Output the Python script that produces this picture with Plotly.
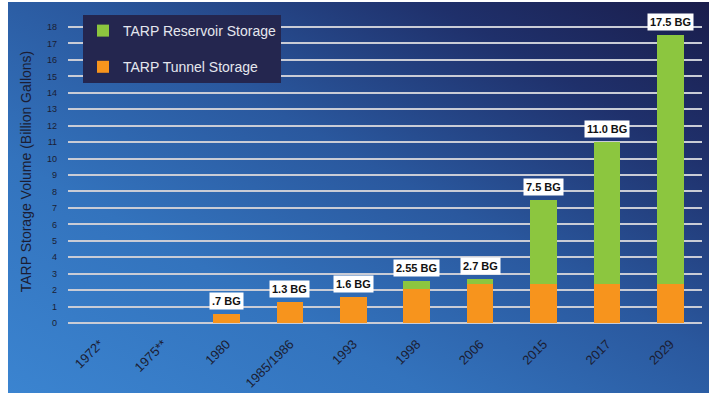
import base64
import plotly.graph_objects as go

# ---- data ----
categories = ["1972*", "1975**", "1980", "1985/1986", "1993", "1998", "2006", "2015", "2017", "2029"]
tunnel = [None, None, 0.55, 1.3, 1.6, 2.1, 2.35, 2.35, 2.35, 2.35]
reservoir = [None, None, 0, 0, 0, 0.45, 0.35, 5.15, 8.65, 15.15]
totals = [None, None, 0.55, 1.3, 1.6, 2.55, 2.7, 7.5, 11.0, 17.5]
value_labels = ["", "", ".7 BG", "1.3 BG", "1.6 BG", "2.55 BG", "2.7 BG", "7.5 BG", "11.0 BG", "17.5 BG"]
y_ticks = list(range(0, 19))

GREEN = "#8cc63f"
ORANGE = "#f7941d"
FONT = "Liberation Sans, Arial, sans-serif"

# background gradient (SVG)
W, H = 701, 391
svg = f'''<svg xmlns="http://www.w3.org/2000/svg" width="{W}" height="{H}" viewBox="0 0 {W} {H}" preserveAspectRatio="none">
<defs><linearGradient id="g" x1="0" y1="1" x2="1" y2="0">
<stop offset="0" stop-color="#3b84d0"/>
<stop offset="0.3" stop-color="#3373bd"/>
<stop offset="0.55" stop-color="#2a589e"/>
<stop offset="0.8" stop-color="#1f306b"/>
<stop offset="1" stop-color="#1a1d4b"/>
</linearGradient></defs>
<rect width="{W}" height="{H}" fill="url(#g)"/></svg>'''
src = "data:image/svg+xml;base64," + base64.b64encode(svg.encode()).decode()

idx = list(range(len(categories)))

fig = go.Figure()
fig.add_trace(go.Bar(x=idx, y=tunnel, name="TARP Tunnel Storage",
                     marker=dict(color=ORANGE, line=dict(width=0)),
                     legendgroup="t", legendrank=2))
fig.add_trace(go.Bar(x=idx, y=reservoir, name="TARP Reservoir Storage",
                     marker=dict(color=GREEN, line=dict(width=0)),
                     legendgroup="r", legendrank=1))

for i, t, lab in zip(idx, totals, value_labels):
    if t is None or not lab:
        continue
    fig.add_annotation(x=i, y=t, text=f"<b>{lab}</b>", showarrow=False,
                       yanchor="bottom", yshift=4, bgcolor="white",
                       borderpad=2, font=dict(family=FONT, size=11, color="#111111"))

# plot area: 68..702 px horizontally, 17..326 px vertically
PL, PR, PT, PB = 68, 702, 17, 326
pw, ph = PR - PL, PB - PT
fig.add_layout_image(dict(source=src, xref="paper", yref="paper",
                          x=(8 - PL) / pw, y=1 + (PT - 2) / ph,
                          sizex=W / pw, sizey=H / ph, sizing="stretch",
                          xanchor="left", yanchor="top", layer="below"))

fig.update_layout(
    width=709, height=393,
    margin=dict(l=PL, r=709 - PR, t=PT, b=393 - PB, pad=0, autoexpand=False),
    paper_bgcolor="white", plot_bgcolor="rgba(0,0,0,0)",
    barmode="stack", bargap=0.58,
    font=dict(family=FONT, color="#1b1d33"),
    showlegend=True,
    legend=dict(x=15 / pw, y=1 + 2 / ph, xanchor="left", yanchor="top",
                bgcolor="#24264f", borderwidth=0, traceorder="grouped",
                tracegroupgap=15, font=dict(family=FONT, size=14, color="#e4e6ee"),
                itemwidth=30),
    xaxis=dict(range=[-0.5, len(categories) - 0.5], tickvals=idx, ticktext=categories,
               tickangle=-45, showgrid=False, zeroline=False, automargin=False,
               showline=False, ticks="", tickfont=dict(size=13, color="#1b1d33"),
               ticklabelstandoff=7),
    yaxis=dict(range=[-0.18, 18.61], tickvals=y_ticks, showgrid=True, automargin=False,
               gridcolor="#c9ccd6", gridwidth=2, zeroline=False, showline=False,
               ticks="", tickfont=dict(size=9, color="#1b1d33"), ticklabelstandoff=10,
               title=dict(text="TARP Storage Volume (Billion Gallons)",
                          font=dict(size=14, color="#1b1d33"), standoff=12)),
)

fig.write_html("out.html")
